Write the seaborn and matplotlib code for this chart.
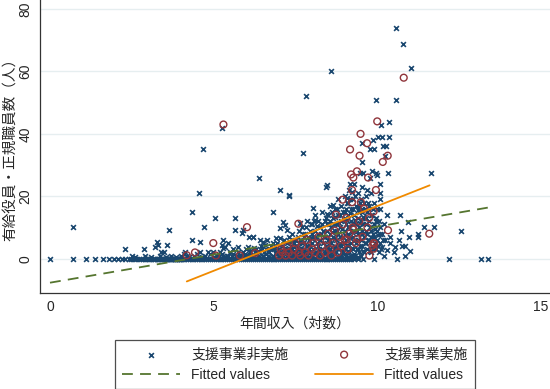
import pandas as pd
import matplotlib
matplotlib.use("Agg")
import matplotlib.pyplot as plt
import seaborn as sns

# colours (Stata s2color-like)
NAVY = "#1a476f"
MAROON = "#90353b"
GREEN = "#55752f"
ORANGE = "#f08a00"

# --- data ----------------------------------------------------------------
# non-implementing orgs that sit exactly at 0 staff
zero_x = [0.00, 0.69, 1.10, 1.39, 1.61, 1.79, 1.95, 2.08, 2.20, 2.30, 2.40, 2.48,
          2.56, 2.64, 2.71, 2.77, 2.83, 2.89, 2.94, 3.00, 3.04, 3.09, 3.14, 3.18,
          3.22, 3.26, 3.30, 3.33, 3.37, 3.40, 3.43, 3.47, 3.50, 3.53, 3.56, 3.58,
          3.61, 3.64, 3.66, 3.69, 3.71, 3.74, 3.76, 3.78, 3.81, 3.83, 3.85, 3.87,
          3.89, 3.91, 3.93, 3.95, 3.97, 3.99, 4.01, 4.06, 4.11, 4.17, 4.22, 4.28,
          4.33, 4.38, 4.44, 4.50, 4.55, 4.61, 4.66, 4.72, 4.78, 4.83, 4.89, 4.94,
          5.00, 5.06, 5.12, 5.18, 5.24, 5.30, 5.36, 5.42, 5.48, 5.54, 5.60, 5.66,
          5.72, 5.78, 5.84, 5.90, 5.96, 6.02, 6.08, 6.14, 6.20, 6.26, 6.32, 6.38,
          6.44, 6.50, 6.56, 6.62, 6.68, 6.74, 6.80, 6.86, 6.92, 6.98, 7.04, 7.10,
          7.16, 7.22, 7.28, 7.34, 7.40, 7.46, 7.52, 7.58, 7.64, 7.70, 7.76, 7.82,
          7.88, 7.94, 8.00, 8.06, 8.12, 8.18, 8.24, 8.30, 8.36, 8.42, 8.48, 8.54,
          8.60, 8.66, 8.72, 8.78, 8.84, 8.90, 8.96, 9.02, 9.08, 9.14, 9.20, 9.30,
          9.40, 9.58, 9.90, 10.60, 12.20, 13.17, 13.40]

# non-implementing orgs with staff > 0
nonimpl_x = [0.69, 2.29, 2.50, 2.88, 3.21, 3.26, 3.31, 3.38, 3.49, 3.57, 3.63, 4.13,
             4.18, 4.33, 4.35, 4.56, 4.59, 4.59, 4.68, 4.71, 4.84, 4.99, 5.05, 5.25,
             5.25, 5.28, 5.35, 5.64, 5.64, 5.91, 6.09, 6.20, 6.40, 6.81, 7.03, 7.30,
             7.74, 7.83, 8.43, 8.59, 5.45, 5.30, 5.76, 6.06, 6.42, 6.52, 6.63, 6.83,
             7.03, 7.03, 7.19, 7.13, 7.24, 5.86, 6.19,
             9.48, 9.54, 9.55, 9.78, 9.85, 9.86, 9.91, 9.97, 9.97, 10.02, 10.07, 10.12,
             10.14, 10.17, 10.24, 10.27, 10.34, 10.37, 10.37, 10.57, 10.58, 10.80,
             11.03, 11.65, 9.99, 9.77, 9.58, 8.46, 7.31, 8.05, 8.66, 8.46, 9.22, 9.17,
             9.69, 10.09, 9.43, 9.58, 10.09, 9.99, 9.07, 8.10, 7.65,
             10.70, 10.93, 10.73, 11.44, 11.74, 12.56, 11.26, 11.26, 10.97, 10.40,
             9.87, 10.09, 10.68, 10.75, 10.86, 10.53, 10.40, 10.15, 10.30, 10.86,
             10.20, 10.50, 11.00,
             5.10, 5.20, 5.30, 5.40, 5.50, 5.55, 5.60, 5.70, 5.75, 5.80, 5.90, 5.95,
             6.00, 6.05, 6.10, 6.15, 6.20, 6.25, 6.30, 6.35, 6.40, 6.45, 6.50, 6.55,
             6.60, 6.65, 6.70, 6.75, 6.80, 6.85, 6.90, 6.95, 7.00, 7.00,
             7.05, 7.10, 7.10, 7.15, 7.20, 7.20, 7.25, 7.25, 7.30, 7.30, 7.35, 7.35,
             7.40, 7.40, 7.45, 7.45, 7.50, 7.50,
             7.55, 7.55, 7.60, 7.60, 7.65, 7.65, 7.70, 7.70, 7.70, 7.75, 7.75, 7.80,
             7.80, 7.85, 7.85, 7.85, 7.90, 7.90, 7.95, 7.95, 8.00, 8.00, 8.00,
             8.05, 8.05, 8.10, 8.10, 8.10, 8.15, 8.15, 8.20, 8.20, 8.20, 8.25, 8.25,
             8.25, 8.30, 8.30, 8.30, 8.35, 8.35, 8.40, 8.40, 8.40, 8.45, 8.45, 8.50,
             8.50, 8.50,
             8.55, 8.55, 8.55, 8.60, 8.60, 8.60, 8.65, 8.65, 8.65, 8.70, 8.70, 8.70,
             8.75, 8.75, 8.75, 8.80, 8.80, 8.80, 8.80, 8.85, 8.85, 8.85, 8.90, 8.90,
             8.90, 8.95, 8.95, 8.95, 9.00, 9.00, 9.00, 9.00,
             9.05, 9.05, 9.05, 9.05, 9.10, 9.10, 9.10, 9.10, 9.15, 9.15, 9.15, 9.20,
             9.20, 9.20, 9.25, 9.25, 9.25, 9.30, 9.30, 9.30, 9.30, 9.35, 9.35, 9.35,
             9.40, 9.40, 9.40, 9.40, 9.45, 9.45, 9.45, 9.50, 9.50, 9.50,
             9.55, 9.55, 9.55, 9.55, 9.60, 9.60, 9.60, 9.60, 9.65, 9.65, 9.65, 9.70,
             9.70, 9.70, 9.75, 9.75, 9.75, 9.80, 9.80, 9.80, 9.85, 9.85, 9.90, 9.90,
             9.90, 9.95, 9.95, 10.00, 10.00, 10.00, 10.05, 10.05, 10.10, 10.10,
             10.15, 10.20, 10.25, 10.30]
nonimpl_y = [10, 3.1, 1.0, 3.1, 3.9, 5.2, 4.3, 2.0, 2.0, 4.3, 9.1, 2.0,
             1.0, 6.1, 15, 21, 5.2, 2.0, 35, 10, 2.0, 2.0, 13, 4.5,
             42, 6.1, 3.9, 13, 9.2, 9.2, 6.9, 6.9, 25.9, 15.1, 22.1, 20,
             34, 52, 23.1, 60, 5.0, 3.4, 3.9, 3.9, 6.1, 5.5, 6.1, 5.0,
             6.6, 9.8, 10.9, 11.9, 9.1, 8.2, 7.1,
             27.4, 31, 37, 35, 28, 38, 35, 51, 27.4, 39.1, 24, 42.9,
             39.1, 36, 33, 36, 27.4, 43.9, 39.1, 73.9, 51, 68.9,
             61, 27.4, 26.9, 25.8, 27.6, 23.5, 20.3, 16.2, 17.3, 14.4, 21.5, 24,
             22, 21, 16.7, 13.5, 15.9, 11.9, 19.6, 12.5, 11.4,
             14.1, 11.9, 9, 10, 10, 9, 8, 7.1, 7.1, 7.1,
             8, 8, 6.1, 4.2, 4.2, 3.9, 5.0, 3.9, 2.9, 1.0,
             1.0, 2.0, 2.5,
             1, 2, 1, 1, 2, 1, 3, 1, 2, 1, 2, 1,
             3, 1, 2, 1, 1, 2, 3, 1, 2, 4, 1, 2,
             3, 1, 2, 4, 1, 3, 2, 5, 1, 3,
             2, 4, 1, 6, 2, 3, 1, 5, 2, 7, 1, 4,
             3, 8, 1, 5, 2, 6,
             1, 4, 3, 9, 2, 6, 1, 5, 10, 3, 7, 2,
             8, 1, 4, 12, 3, 6, 2, 9, 1, 5, 11,
             3, 7, 2, 9, 14, 1, 5, 4, 8, 12, 2, 6,
             10, 1, 3, 15, 5, 9, 2, 7, 12, 4, 11, 1,
             6, 14,
             3, 8, 17, 2, 5, 10, 1, 7, 13, 4, 9, 16,
             2, 6, 11, 3, 8, 14, 19, 1, 5, 10, 4, 12,
             17, 2, 7, 15, 3, 9, 13, 20,
             1, 6, 11, 16, 4, 8, 14, 18, 2, 10, 22, 5,
             12, 16, 3, 7, 19, 1, 9, 14, 24, 5, 11, 17,
             3, 8, 13, 21, 2, 10, 15, 6, 12, 19,
             4, 9, 16, 23, 2, 7, 13, 18, 5, 11, 20, 3,
             8, 15, 6, 12, 17, 2, 9, 21, 4, 14, 7, 11,
             18, 3, 13, 6, 9, 16, 2, 12, 5, 19,
             8, 11, 6, 14]

# thin band of 1-2 staff just above the zero line
band_x = [2.60, 2.90, 3.10, 3.35, 3.55, 3.70, 3.85, 4.00, 4.10, 4.25, 4.40, 4.50,
          4.65, 4.75, 4.90, 5.00, 5.15, 5.25, 5.35, 5.45, 5.60, 5.70, 5.85, 5.95,
          6.05, 6.20, 6.30, 6.40, 6.50, 6.60, 6.70, 6.80, 6.90, 7.00, 7.10, 7.20,
          7.30, 7.40, 7.50, 7.60, 7.70, 7.80, 7.90, 8.00, 8.10, 8.20, 8.30, 8.40,
          8.50, 8.60, 8.70, 8.80, 8.90, 9.00, 9.10, 9.20, 9.30, 9.40, 9.50]
band_y = [0.6, 1.0, 0.6, 1.0, 0.6, 1.0, 0.6, 1.0, 1.5, 0.6, 1.0, 1.5,
          0.6, 1.0, 1.5, 0.6, 1.0, 1.5, 0.6, 1.0, 1.5, 0.6, 1.0, 1.5,
          0.6, 1.0, 1.5, 0.6, 1.0, 1.5, 0.6, 1.0, 1.5, 0.6, 1.0, 1.5,
          0.6, 1.0, 1.5, 0.6, 1.0, 1.5, 0.6, 1.0, 1.5, 0.6, 1.0, 1.5,
          0.6, 1.0, 1.5, 0.6, 1.0, 1.5, 0.6, 1.0, 1.5, 0.6, 1.0]

# second layer of the dense blob
dense_x = [6.12, 6.22, 6.37, 6.47, 6.57, 6.67, 6.77, 6.87, 6.97, 6.92,
           7.02, 7.12, 7.17, 7.27, 7.32, 7.37, 7.42, 7.47, 7.52,
           7.57, 7.62, 7.67, 7.72, 7.77, 7.82, 7.87, 7.92, 7.97, 7.97,
           8.02, 8.07, 8.12, 8.17, 8.22, 8.27, 8.32, 8.37, 8.42, 8.47, 8.47, 8.52, 8.52,
           8.57, 8.57, 8.62, 8.62, 8.67, 8.67, 8.72, 8.72, 8.77, 8.77, 8.82, 8.82,
           8.87, 8.87, 8.92, 8.92, 8.97, 8.97,
           9.02, 9.02, 9.07, 9.07, 9.07, 9.12, 9.12, 9.17, 9.17, 9.17, 9.22, 9.22,
           9.27, 9.27, 9.32, 9.32, 9.32, 9.37, 9.37, 9.42, 9.42, 9.47, 9.47, 9.47,
           9.52, 9.52, 9.57, 9.57, 9.62, 9.62, 9.67, 9.67, 9.72, 9.72, 9.77, 9.77,
           9.82, 9.82, 9.87, 9.87, 9.92, 9.92, 9.97, 10.02, 10.02, 10.07, 10.12, 10.17]
dense_y = [2.5, 3.5, 2.5, 3, 4.5, 2.5, 3, 4, 2.5, 6.5,
           4.5, 2.5, 3.5, 2.5, 5.5, 3, 6, 2.5, 4,
           7, 5, 3.5, 8, 5.5, 10, 7, 4.5, 11, 6.5,
           8, 12, 6.5, 10.5, 3, 8, 11, 7, 13, 9, 3.5, 11, 4.5,
           12, 6, 15, 8.5, 3, 11, 13.5, 6.5, 9, 16, 4.5, 11.5,
           7, 14, 9.5, 2.5, 12.5, 5,
           7.5, 15, 4.5, 12.5, 18, 10, 2.5, 6.5, 14.5, 19, 8.5, 3.5,
           11, 16, 6, 12.5, 20, 3, 9, 15.5, 6, 11.5, 18, 4,
           8, 15, 11, 2.5, 5, 16, 9, 13, 6, 18, 2.5, 10,
           7, 14, 3, 16, 5, 9.5, 12, 4, 7.5, 10, 3, 6]

# implementing orgs
impl_x = [10.81, 5.30, 10.00, 9.49, 9.69, 9.17, 9.46, 10.32, 10.17, 9.20, 9.38,
          9.27, 9.72, 9.96, 9.23, 8.94, 9.23, 9.50, 8.74, 9.89, 7.59, 6.02, 4.99,
          10.33, 11.59, 9.89, 9.85, 9.89, 9.76, 5.80, 5.07, 4.18, 4.43, 6.27,
          9.28, 9.07, 9.40, 9.91,
          7.00, 7.05, 7.10, 7.20, 7.25, 7.30, 7.40, 7.45, 7.50, 7.60, 7.65, 7.70,
          7.80, 7.85, 7.90, 8.00, 8.05, 8.10, 8.20, 8.25, 8.30, 8.40, 8.45, 8.50,
          8.55, 8.60, 8.65, 8.70, 8.80, 8.85, 8.90, 8.95, 9.00, 9.05, 9.10, 9.15,
          9.25, 9.35, 9.45, 9.55, 9.60, 9.70, 9.75]
impl_y = [58, 43, 44, 40, 37, 35, 33, 33, 31, 27, 28,
          26, 26, 22, 22, 18.9, 18.1, 18.1, 14.1, 15.1, 11.2, 10.1, 5.0,
          9.1, 8, 5.0, 4.2, 3.2, 1.0, 1.0, 1.0, 1.1, 2.0, 1.8,
          9.3, 6.1, 6.3, 4.8,
          1, 3, 2, 1, 4, 2, 1, 3, 5, 2, 1, 4,
          2, 6, 1, 3, 5, 2, 7, 1, 4, 2, 6, 8,
          3, 1, 5, 9, 2, 7, 4, 11, 6, 13, 3, 8,
          10, 5, 12, 7, 16, 10, 13]

# fitted lines (end points)
fit0_x = [0.0, 13.4]
fit0_y = [-7.7, 16.4]
fit1_x = [4.18, 11.6]
fit1_y = [-7.3, 23.5]

xticks = [0, 5, 10, 15]
yticks = [0, 20, 40, 60, 80]

# --- plot ------------------------------------------------------------------
sns.set_style("white")
plt.rcParams['font.family'] = ['Liberation Sans', 'Noto Sans CJK JP', 'DejaVu Sans']

fig = plt.figure(figsize=(5.5, 3.89), dpi=100)
ax = fig.add_axes([0.0727, 0.2476, 0.9273, 0.7524])

for yv in yticks:
    ax.axhline(yv, color="#e6eef0", lw=1.0, zorder=0)

nonimpl = pd.DataFrame({"x": zero_x + band_x + dense_x + nonimpl_x,
                        "y": [0] * len(zero_x) + band_y + dense_y + nonimpl_y})
impl = pd.DataFrame({"x": impl_x, "y": impl_y})

sns.scatterplot(data=nonimpl, x="x", y="y", ax=ax, marker="x", color=NAVY,
                s=12, linewidth=1.2, label="支援事業非実施", zorder=2)
sns.scatterplot(data=impl, x="x", y="y", ax=ax, marker="o", facecolor="none",
                edgecolor=MAROON, s=24, linewidth=1.0, label="支援事業実施", zorder=3)
sns.lineplot(x=fit0_x, y=fit0_y, ax=ax, color=GREEN, lw=1.3,
             label="Fitted values", zorder=4)
ax.lines[-1].set_dashes((6, 4))
sns.lineplot(x=fit1_x, y=fit1_y, ax=ax, color=ORANGE, lw=1.3,
             label="Fitted values", zorder=4)

ax.set_xlim(-0.306, 15.28)
ax.set_ylim(-10.9, 82.9)
ax.set_xticks(xticks)
ax.set_yticks(yticks)
ax.tick_params(axis="both", direction="out", length=3.4, width=0.9,
               color="#333333", labelsize=10, pad=2)
for lab in ax.get_yticklabels():
    lab.set_rotation(90)
    lab.set_va("center")
ax.set_xlabel("年間収入（対数）", fontsize=10, labelpad=2)
ax.set_ylabel("有給役員・正規職員数（人）", fontsize=10.5, labelpad=1)

for side in ["top", "right"]:
    ax.spines[side].set_visible(False)
for side in ["left", "bottom"]:
    ax.spines[side].set_color("#333333")
    ax.spines[side].set_linewidth(0.9)

handles, labels = ax.get_legend_handles_labels()
ax.get_legend().remove()
order = [0, 2, 1, 3]
leg = fig.legend([handles[i] for i in order], [labels[i] for i in order],
                 loc="upper center", bbox_to_anchor=(0.536, 0.143), ncol=2,
                 fontsize=10, frameon=True, fancybox=False, handlelength=4.2,
                 handletextpad=0.8, columnspacing=1.9, labelspacing=0.5,
                 borderpad=0.5)
leg.get_frame().set_edgecolor("#222222")
leg.get_frame().set_linewidth(0.9)

fig.savefig("out.png", dpi=100)
